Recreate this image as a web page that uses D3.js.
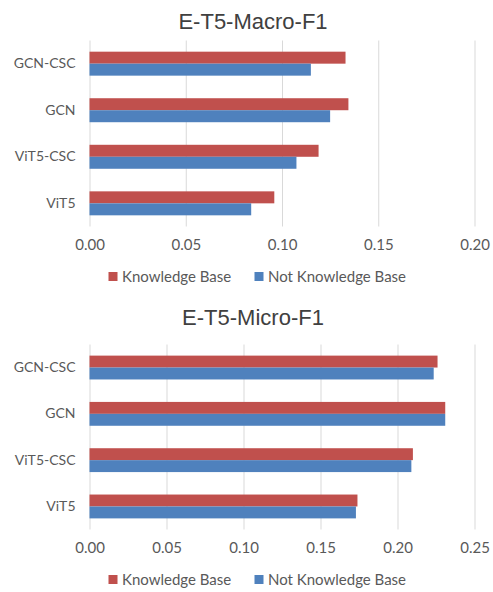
<!DOCTYPE html>
<meta charset="utf-8">
<style>
body { margin: 0; background: #fff; }
text { font-family: Lato, "Open Sans", sans-serif; fill: #595959; }
.title { font-family: "Liberation Sans", Arial, sans-serif; fill: #404040; }
.grid line { stroke: #d9d9d9; stroke-width: 1px; }
.grid .domain { display: none; }
.axis .domain { display: none; }
</style>
<svg width="493" height="592"></svg>
<script src="https://d3js.org/d3.v7.min.js"></script>
<script>
// categories, top to bottom
var categories = ["GCN-CSC", "GCN", "ViT5-CSC", "ViT5"];
var seriesNames = ["Knowledge Base", "Not Knowledge Base"];
var seriesColors = ["#c0504d", "#4f81bd"];

var macroKB    = [0.133, 0.1345, 0.119, 0.096];
var macroNotKB = [0.115, 0.125, 0.1075, 0.084];
var macroTicks = [0, 0.05, 0.10, 0.15, 0.20];

var microKB    = [0.226, 0.231, 0.210, 0.174];
var microNotKB = [0.2235, 0.231, 0.209, 0.173];
var microTicks = [0, 0.05, 0.10, 0.15, 0.20, 0.25];

var svg = d3.select("svg");

//draw one chart panel
function drawChart(top, title, kb, notkb, ticks, gridTop, gridBottom) {
  var left = 89.5, right = 474.5;
  var g = svg.append("g").attr("transform", "translate(0," + top + ")");

  var x = d3.scaleLinear().domain([0, ticks[ticks.length - 1]]).range([left, right]);
  var y = d3.scaleBand().domain(categories).range([gridTop, gridBottom]).paddingInner(0.485).paddingOuter(0.24);
  var y2 = d3.scaleBand().domain([0, 1]).range([0, y.bandwidth()]);

  g.append("text").attr("class", "title")
    .attr("x", 253).attr("y", 29)
    .attr("text-anchor", "middle")
    .style("font-size", "22px")
    .text(title);

  //gridlines
  g.append("g").attr("class", "grid")
    .attr("transform", "translate(0," + gridBottom + ")")
    .call(d3.axisBottom(x).tickValues(ticks).tickSize(-(gridBottom - gridTop)).tickFormat(""));

  //bars
  var rows = categories.map(function(c, i) { return { cat: c, vals: [kb[i], notkb[i]] }; });
  var row = g.append("g").selectAll("g")
    .data(rows).enter().append("g")
    .attr("transform", function(d) { return "translate(0," + y(d.cat) + ")"; });
  row.selectAll("rect")
    .data(function(d) { return d.vals; })
    .enter().append("rect")
    .attr("x", x(0))
    .attr("y", function(d, i) { return y2(i); })
    .attr("width", function(d) { return x(d) - x(0); })
    .attr("height", y2.bandwidth())
    .attr("fill", function(d, i) { return seriesColors[i]; });

  //x tick labels
  g.append("g").attr("class", "axis")
    .attr("transform", "translate(0," + (gridBottom + 10) + ")")
    .call(d3.axisBottom(x).tickValues(ticks).tickSize(0).tickFormat(d3.format(".2f")))
    .selectAll("text").style("font-size", "15px").attr("fill", "#595959");

  //category labels
  g.append("g").attr("class", "axis")
    .attr("transform", "translate(" + (left - 11) + ",0)")
    .call(d3.axisLeft(y).tickSize(0))
    .selectAll("text").style("font-size", "14px").attr("fill", "#595959");

  //legend
  var legX = [108.5, 254.5];
  var legY = gridBottom + 50;
  var leg = g.append("g").selectAll("g")
    .data(seriesNames).enter().append("g")
    .attr("transform", function(d, i) { return "translate(" + legX[i] + "," + legY + ")"; });
  leg.append("rect").attr("x", 0).attr("y", -4.5).attr("width", 9).attr("height", 9)
    .attr("fill", function(d, i) { return seriesColors[i]; });
  leg.append("text").attr("x", 13.5).attr("y", 0).attr("dy", "0.35em")
    .style("font-size", "15px")
    .text(function(d) { return d; });
}

drawChart(0, "E-T5-Macro-F1", macroKB, macroNotKB, macroTicks, 40.5, 226.5);
drawChart(296, "E-T5-Micro-F1", microKB, microNotKB, microTicks, 48.5, 233.5);
</script>
